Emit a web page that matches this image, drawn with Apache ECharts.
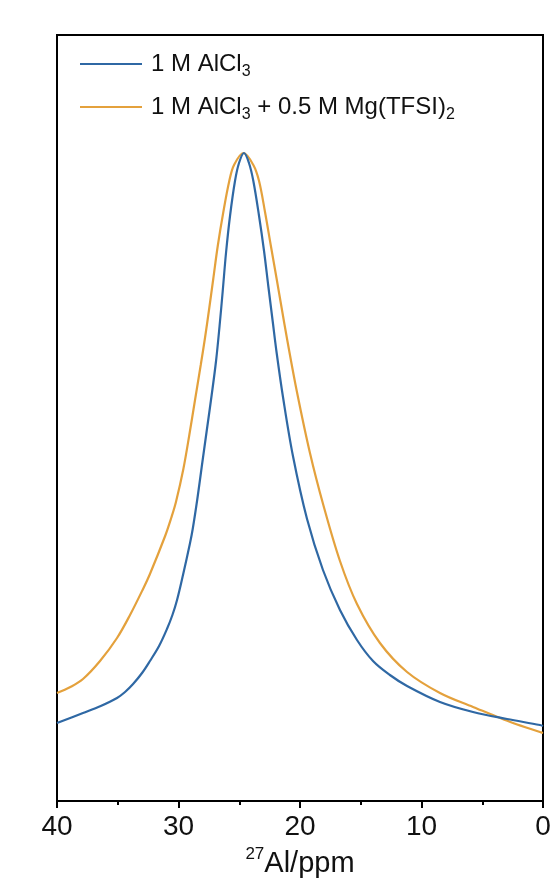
<!DOCTYPE html>
<html>
<head>
<meta charset="utf-8">
<script src="https://cdn.jsdelivr.net/npm/echarts@6/dist/echarts.min.js"></script>
<style>
html,body{margin:0;padding:0;background:#fff;}
#chart{width:555px;height:890px;}
</style>
</head>
<body>
<div id="chart"></div>
<script>
// chemical shift (ppm) and intensity (a.u.)
var alcl3Ppm = [40, 37.86, 36.4, 35.06, 34.4, 33.74, 33.0, 32.35, 31.6, 30.95, 30.5, 30.12, 29.63, 29.05, 28.83, 28.45, 28.09, 27.68, 27.27, 26.91, 26.62, 26.36, 26.09, 25.76, 25.35, 25.02, 24.61, 24.20, 23.84, 23.37, 22.96, 22.61, 22.25, 21.92, 21.40, 20.58, 19.42, 18.11, 16.71, 15.31, 13.99, 12.6, 11.19, 8.48, 5.76, 2.96, 0.25, 0];
var alcl3Int = [78, 88, 95, 103, 109, 117, 128, 140, 155, 172, 186, 201, 226, 258, 272, 302, 334, 370, 406, 440, 475, 510, 548, 585, 620, 638, 648, 638, 620, 585, 550, 515, 480, 448, 404, 345, 282, 231, 191, 161, 140, 126, 115, 99, 89, 82, 76, 75];

var mixPpm = [40, 38.9, 37.86, 36.46, 35.06, 33.99, 32.92, 32.35, 31.10, 30.60, 30.21, 29.60, 29.11, 28.64, 28.17, 27.82, 27.49, 27.14, 26.77, 26.31, 25.82, 25.43, 24.65, 23.84, 23.37, 22.88, 22.41, 21.92, 21.51, 21.05, 20.25, 19.18, 18.08, 16.71, 15.31, 13.42, 11.19, 8.48, 5.76, 4.12, 2.47, 0.25, 0];
var mixInt = [108, 114, 122, 140, 163, 186, 212, 227, 265, 283, 299, 332, 366, 401, 436, 463, 491, 522, 555, 589, 620, 636, 648, 636, 620, 589, 556, 522, 493, 461, 409, 348, 296, 240, 197, 158, 129, 108, 94, 86, 78, 69, 68];

var xTicks = [0, 10, 20, 30, 40];
var seriesNames = ['1 M AlCl3', '1 M AlCl3 + 0.5 M Mg(TFSI)2'];

function zip(xs, ys) { return xs.map(function (x, i) { return [x, ys[i]]; }); }

var chart = echarts.init(document.getElementById('chart'));
var font = 'Liberation Sans, Arial, sans-serif';
chart.setOption({
  animation: false,
  backgroundColor: '#fff',
  grid: { left: 57, right: 12, top: 35, bottom: 89, show: true, borderColor: '#000', borderWidth: 2, backgroundColor: 'transparent' },
  legend: {
    orient: 'vertical',
    left: 75,
    top: 47,
    itemWidth: 62,
    itemHeight: 14,
    itemGap: 15,
    icon: 'path://M0,0 L62,0 L62,2 L0,2 Z',
    data: seriesNames,
    formatter: function (name) {
      if (name === seriesNames[0]) return '{n|1 M AlCl}{s|3}';
      return '{n|1 M AlCl}{s|3}{n| + 0.5 M Mg(TFSI)}{s|2}';
    },
    textStyle: {
      padding: [0, 0, 0, 4],
      rich: {
        n: { fontFamily: font, fontSize: 24, color: '#111', lineHeight: 32 },
        s: { fontFamily: font, fontSize: 16, color: '#111', lineHeight: 16, verticalAlign: 'bottom' }
      }
    }
  },
  xAxis: {
    type: 'value',
    min: 0,
    max: 40,
    interval: 10,
    inverse: true,
    name: '{sup|27}{m|Al/ppm}',
    nameLocation: 'middle',
    nameGap: 40,
    nameTextStyle: {
      rich: {
        m: { fontFamily: font, fontSize: 29, color: '#111', lineHeight: 36 },
        sup: { fontFamily: font, fontSize: 17, color: '#111', lineHeight: 17, verticalAlign: 'top' }
      }
    },
    axisLine: { show: true, onZero: false, lineStyle: { color: '#000', width: 2 } },
    axisTick: { show: true, length: 7, lineStyle: { color: '#000', width: 2 } },
    minorTick: { show: true, splitNumber: 2, length: 4, lineStyle: { color: '#000', width: 2 } },
    splitLine: { show: false },
    axisLabel: {
      margin: 12,
      fontFamily: font,
      fontSize: 28,
      color: '#111',
      customValues: xTicks
    }
  },
  yAxis: {
    type: 'value',
    min: 0,
    max: 766,
    axisLine: { show: true, lineStyle: { color: '#000', width: 2 } },
    axisTick: { show: false },
    axisLabel: { show: false },
    splitLine: { show: false }
  },
  series: [
    {
      name: seriesNames[0],
      type: 'line',
      data: zip(alcl3Ppm, alcl3Int),
      showSymbol: false,
      symbol: 'none',
      smooth: 0.35,
      lineStyle: { color: '#2f68a4', width: 2.2 },
      itemStyle: { color: '#2f68a4' },
      z: 3
    },
    {
      name: seriesNames[1],
      type: 'line',
      data: zip(mixPpm, mixInt),
      showSymbol: false,
      symbol: 'none',
      smooth: 0.35,
      lineStyle: { color: '#e4a13c', width: 2.2 },
      itemStyle: { color: '#e4a13c' },
      z: 2
    }
  ]
});
</script>
</body>
</html>
